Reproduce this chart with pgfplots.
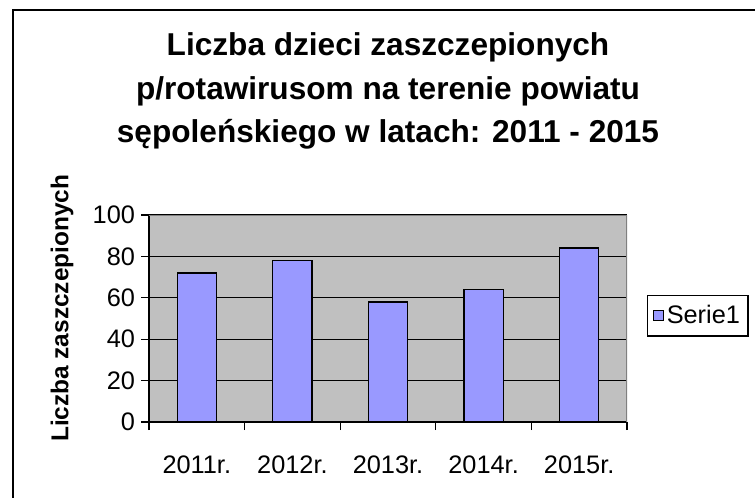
\documentclass[border=0pt]{standalone}
\usepackage{fontspec}
\setmainfont{Liberation Sans}
\usepackage{pgfplots}
\pgfplotsset{compat=1.18}
\definecolor{barcol}{HTML}{9999FF}
\definecolor{plotbg}{HTML}{C0C0C0}
\definecolor{bordergray}{HTML}{808080}
\begin{document}
\begin{tikzpicture}
\useasboundingbox (0pt,0pt) rectangle (566.25pt,372.75pt);
\clip (0pt,0pt) rectangle (566.25pt,372.75pt);
\fill[white] (0pt,0pt) rectangle (566.25pt,372.75pt);
\draw[line width=1.5pt] (9.75pt,-20pt) -- (9.75pt,365.25pt) -- (590pt,365.25pt);
\node[align=center,font=\fontsize{23.7}{32.6}\selectfont\bfseries] at (291pt,304.5pt) {Liczba dzieci zaszczepionych\\p/rotawirusom na terenie powiatu\\sępoleńskiego w latach: 2011 - 2015};
\node[rotate=90,font=\fontsize{18.3}{20}\selectfont\bfseries] at (46.5pt,141.5pt) {Liczba zaszczepionych};
\begin{axis}[
  at={(111.75pt,56.25pt)}, anchor=south west,
  scale only axis,
  width=358.5pt, height=155.25pt,
  xmin=0.5, xmax=5.5, ymin=0, ymax=100,
  axis x line*=bottom, axis y line*=left,
  axis line style={line width=1.1pt, black},
  axis background/.style={fill=plotbg},
  xtick={0.5,1.5,...,5.5},
  x tick label as interval,
  xticklabels={2011r.,2012r.,2013r.,2014r.,2015r.},
  ytick={0,20,...,100},
  tick align=outside,
  major tick length=6pt,
  tick style={line width=0.9pt, black},
  ymajorgrids,
  grid style={line width=0.9pt, black},
  tick label style={font=\fontsize{19}{21}\selectfont},
  xticklabel style={yshift=-16pt},
  yticklabel style={xshift=-1pt},
  /pgf/number format/assume math mode=true,
  ybar, bar width=0.41,
  legend style={at={(rel axis cs:1.042,0.6135)}, anchor=north west, draw=black, line width=0.9pt, font=\fontsize{19}{21}\selectfont, inner xsep=4pt, inner ysep=5.5pt},
  legend image code/.code={\draw[fill=barcol,draw=black,line width=0.7pt] (0pt,-3.8pt) rectangle (7.6pt,3.8pt);},
]
\addplot[fill=barcol, draw=black, line width=1pt] coordinates {(1,72) (2,78) (3,58) (4,64) (5,84)};
\addlegendentry{Serie1}
\draw[bordergray, line width=1pt] (rel axis cs:0,1) -- (rel axis cs:1,1) -- (rel axis cs:1,0);
\end{axis}
\end{tikzpicture}
\end{document}
